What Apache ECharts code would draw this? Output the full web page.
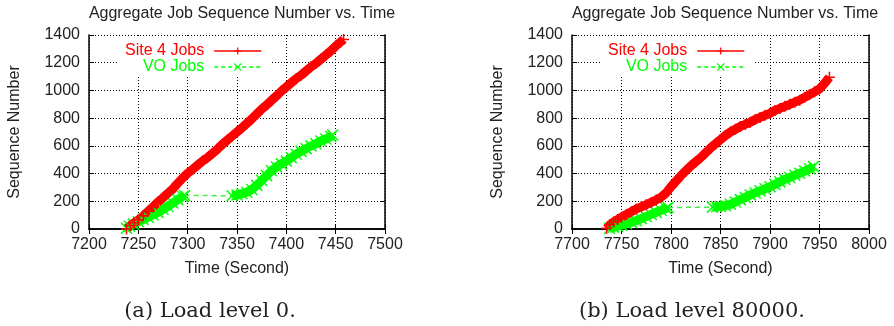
<!DOCTYPE html>
<html><head><meta charset="utf-8">
<script src="https://cdn.jsdelivr.net/npm/echarts@6/dist/echarts.min.js"></script>
<style>html,body{margin:0;padding:0;background:#fff}#c{width:894px;height:326px}</style>
</head><body><div id="c"></div>
<script>
// ---------- data ----------
var yTicks = [0, 200, 400, 600, 800, 1000, 1200, 1400];
var xTicksA = [7200, 7250, 7300, 7350, 7400, 7450, 7500];
var xTicksB = [7700, 7750, 7800, 7850, 7900, 7950, 8000];
var chartTitle = 'Aggregate Job Sequence Number vs. Time';
var captions = ['(a) Load level 0.', '(b) Load level 80000.'];
var seriesNames = ['Site 4 Jobs', 'VO Jobs'];

// (a) load level 0
var site4A = [[7238,0],[7242,25],[7246,45],[7250,65],[7255,95],[7260,128],[7265,161],[7270,195],[7275,225],[7280,258],[7285,290],[7290,330],[7295,368],[7300,402],[7305,430],[7310,460],[7315,490],[7320,515],[7325,545],[7330,575],[7335,610],[7340,640],[7345,670],[7350,700],[7355,730],[7360,762],[7365,795],[7370,830],[7375,865],[7380,895],[7385,928],[7390,960],[7395,995],[7400,1025],[7405,1055],[7410,1085],[7415,1110],[7420,1140],[7425,1170],[7430,1195],[7435,1225],[7440,1255],[7445,1285],[7450,1320],[7455,1350],[7458,1368]];
var voA1 = [[7238,5],[7241,20],[7245,35],[7250,53],[7255,68],[7260,85],[7265,101],[7270,120],[7275,142],[7280,163],[7285,188],[7290,212],[7295,235],[7297,242]];
var voA2 = [[7345,240],[7350,245],[7355,255],[7360,265],[7365,285],[7370,315],[7375,350],[7380,385],[7385,420],[7390,448],[7395,470],[7400,490],[7405,515],[7410,540],[7415,560],[7420,580],[7425,600],[7430,615],[7435,635],[7440,650],[7445,668],[7447,678]];

// (b) load level 80000
var site4B = [[7735,5],[7738,30],[7742,50],[7746,68],[7750,85],[7755,105],[7760,125],[7765,145],[7770,160],[7775,175],[7780,192],[7785,210],[7790,230],[7795,260],[7800,305],[7805,345],[7810,385],[7815,420],[7820,455],[7825,485],[7830,515],[7835,550],[7840,585],[7845,615],[7850,645],[7855,675],[7860,700],[7865,720],[7870,740],[7875,755],[7880,770],[7885,790],[7890,805],[7895,820],[7900,835],[7905,855],[7910,870],[7915,885],[7920,900],[7925,915],[7930,930],[7935,950],[7940,970],[7945,990],[7950,1010],[7955,1050],[7960,1095]];
var voB1 = [[7738,3],[7742,12],[7746,20],[7750,28],[7755,38],[7760,48],[7765,60],[7770,75],[7775,90],[7780,105],[7785,120],[7790,135],[7795,148],[7797,155]];
var voB2 = [[7842,158],[7846,160],[7850,162],[7855,168],[7860,178],[7865,195],[7870,212],[7875,228],[7880,245],[7885,260],[7890,275],[7895,290],[7900,305],[7905,322],[7910,340],[7915,358],[7920,372],[7925,388],[7930,402],[7935,418],[7940,435],[7944,450]];

// ---------- styles ----------
var RED = '#ff0000', GREEN = '#00ff00', TXT = '#222';
var FONT = '"Liberation Sans", Arial, sans-serif';
var PLUS = 'path://M5,0L5,10M0,5L10,5';
var CROSS = 'path://M0,0L10,10M10,0L0,10';
var grids = [
  {left: 89, top: 35, width: 296, height: 194},
  {left: 572, top: 35, width: 297, height: 194}
];
var xRanges = [xTicksA, xTicksB];
function plain(v) { return String(v); }

var xAxes = [], yAxes = [];
grids.forEach(function (g, i) {
  var xt = xRanges[i];
  var common = {type: 'value', gridIndex: i, min: xt[0], max: xt[xt.length-1], interval: xt[1]-xt[0],
    axisLine: {show: true, lineStyle: {color: '#000', width: 1.5}},
    axisTick: {show: true, inside: true, length: 5, lineStyle: {color: '#000', width: 1}}};
  xAxes.push(Object.assign({}, common, {position: 'bottom',
    name: 'Time (Second)', nameLocation: 'middle', nameGap: 32,
    nameTextStyle: {fontFamily: FONT, fontSize: 16, color: TXT},
    axisLabel: {fontFamily: FONT, fontSize: 16, color: TXT, margin: 8, formatter: plain},
    splitLine: {show: true, lineStyle: {color: '#000', width: 1, type: [1, 2]}}}));
  xAxes.push(Object.assign({}, common, {position: 'top', axisLabel: {show: false}, splitLine: {show: false}}));
  var yc = {type: 'value', gridIndex: i, min: yTicks[0], max: yTicks[yTicks.length-1], interval: yTicks[1]-yTicks[0],
    axisLine: {show: true, lineStyle: {color: '#000', width: 1.5}},
    axisTick: {show: true, inside: true, length: 5, lineStyle: {color: '#000', width: 1}}};
  yAxes.push(Object.assign({}, yc, {position: 'left',
    name: 'Sequence Number', nameLocation: 'middle', nameGap: 66, nameRotate: 90,
    nameTextStyle: {fontFamily: FONT, fontSize: 16, color: TXT},
    axisLabel: {fontFamily: FONT, fontSize: 16, color: TXT, margin: 9, formatter: plain},
    splitLine: {show: true, lineStyle: {color: '#000', width: 1, type: [1, 2]}}}));
  yAxes.push(Object.assign({}, yc, {position: 'right', axisLabel: {show: false}, splitLine: {show: false}}));
});

function band(name, data, gi, color, sym) {
  return {type: 'line', name: name, data: data, xAxisIndex: gi*2, yAxisIndex: gi*2,
    symbol: sym, symbolSize: 11, showAllSymbol: true, animation: false,
    lineStyle: {color: color, width: 9},
    itemStyle: {color: color, borderColor: color, borderWidth: 1.5}, z: 3};
}
function gap(name, a, b, gi) {
  return {type: 'line', name: name, data: [a[a.length-1], b[0]], xAxisIndex: gi*2, yAxisIndex: gi*2,
    symbol: 'none', animation: false, lineStyle: {color: '#44ee44', width: 1.5, type: [5, 4]}, z: 2};
}

var series = [
  band(seriesNames[1], voA1, 0, GREEN, CROSS),
  gap(seriesNames[1], voA1, voA2, 0),
  band(seriesNames[1], voA2, 0, GREEN, CROSS),
  band(seriesNames[0], site4A, 0, RED, PLUS),
  band(seriesNames[1], voB1, 1, GREEN, CROSS),
  gap(seriesNames[1], voB1, voB2, 1),
  band(seriesNames[1], voB2, 1, GREEN, CROSS),
  band(seriesNames[0], site4B, 1, RED, PLUS)
];

var legends = [];
var legendRight = [894 - 270, 894 - 753];
legendRight.forEach(function (r, i) {
  legends.push({data: [{name: seriesNames[0], textStyle: {color: RED}}],
    orient: 'vertical', align: 'right', right: r, top: 36, itemWidth: 47, itemHeight: 9,
    padding: [7, 8, 0, 6], backgroundColor: '#fff', selectedMode: false,
    lineStyle: {width: 1.5, type: 'solid'}, itemStyle: {borderWidth: 1.2},
    textStyle: {fontFamily: FONT, fontSize: 16, color: RED, lineHeight: 16, padding: [0, 5, 0, 0]}});
  legends.push({data: [{name: seriesNames[1], textStyle: {color: GREEN}}],
    orient: 'vertical', align: 'right', right: r, top: 59, itemWidth: 47, itemHeight: 9,
    padding: [0, 8, 0, 24], backgroundColor: '#fff', selectedMode: false,
    lineStyle: {width: 1.5, type: [4, 3]}, itemStyle: {borderWidth: 1.2},
    textStyle: {fontFamily: FONT, fontSize: 16, color: GREEN, lineHeight: 16, padding: [0, 5, 0, 0]}});
});

var CAPFONT = '"DejaVu Serif", serif';
var titles = [
  {text: chartTitle, left: 237, top: 1, textAlign: 'center', textStyle: {fontFamily: FONT, fontSize: 16, fontWeight: 'normal', color: TXT}},
  {text: chartTitle, left: 720, top: 1, textAlign: 'center', textStyle: {fontFamily: FONT, fontSize: 16, fontWeight: 'normal', color: TXT}},
  {text: captions[0], left: 205, top: 296, textAlign: 'center', textStyle: {fontFamily: CAPFONT, fontSize: 21, fontWeight: 'normal', color: TXT}},
  {text: captions[1], left: 687, top: 296, textAlign: 'center', textStyle: {fontFamily: CAPFONT, fontSize: 21, fontWeight: 'normal', color: TXT}}
];

var chart = echarts.init(document.getElementById('c'), null, {renderer: 'canvas'});
chart.setOption({
  backgroundColor: '#fff', animation: false,
  title: titles, legend: legends, grid: grids, xAxis: xAxes, yAxis: yAxes, series: series
});
</script></body></html>
